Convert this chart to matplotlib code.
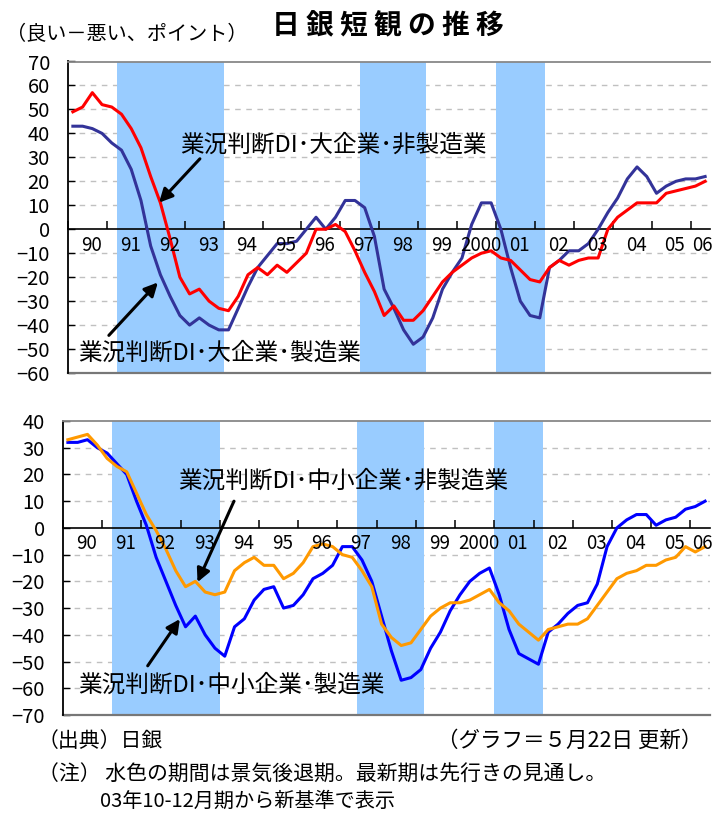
"""
日銀短観（業況判断DI）の推移を2段のグラフで描く。
上段: 大企業（製造業・非製造業）、下段: 中小企業（製造業・非製造業）。
"""

import matplotlib

matplotlib.use("Agg")
import matplotlib.pyplot as plt  # noqa: E402
import numpy as np  # noqa: E402

plt.rcParams["font.family"] = ["Noto Sans CJK JP", "DejaVu Sans"]
plt.rcParams["axes.unicode_minus"] = True

W, H = 712, 816  # 出力サイズ (px)

# 四半期データ 1990年1-3月期〜2006年4-6月期（最新期は先行きの見通し）
dai_hiseizo = [49, 51, 57, 52, 51, 48, 42, 34, 22, 11, -4, -20, -27, -25, -30, -33,
               -34, -28, -19, -16, -19, -15, -18, -14, -10, 0, 0, 2, -1, -9, -18, -26,
               -36, -32, -38, -38, -34, -28, -22, -18, -15, -12, -10, -9, -12, -13, -17, -21,
               -22, -16, -13, -15, -13, -12, -12, 0, 5, 8, 11, 11, 11, 15, 16, 17,
               18, 20]
dai_seizo = [43, 43, 42, 40, 36, 33, 25, 12, -7, -19, -28, -36, -40, -37, -40, -42,
             -42, -33, -24, -16, -11, -6, -6, -5, 0, 5, 0, 5, 12, 12, 9, -3,
             -25, -33, -42, -48, -45, -37, -25, -18, -12, 2, 11, 11, 0, -16, -30, -36,
             -37, -16, -13, -9, -9, -6, 0, 7, 13, 21, 26, 22, 15, 18, 20, 21,
             21, 22]
chusho_hiseizo = [33, 34, 35, 31, 26, 23, 21, 13, 5, -1, -8, -16, -22, -20, -24, -25,
                  -24, -16, -13, -11, -14, -14, -19, -17, -13, -7, -6, -7, -10, -11, -16, -22,
                  -36, -41, -44, -43, -38, -33, -30, -28, -28, -27, -25, -23, -28, -31, -36, -39,
                  -42, -38, -37, -36, -36, -34, -29, -24, -19, -17, -16, -14, -14, -12, -11, -7,
                  -9, -7]
chusho_seizo = [32, 32, 33, 30, 28, 24, 20, 10, 1, -11, -20, -29, -37, -33, -40, -45,
                -48, -37, -34, -27, -23, -22, -30, -29, -25, -19, -17, -14, -7, -7, -12, -20,
                -33, -46, -57, -56, -53, -45, -39, -31, -25, -20, -17, -15, -25, -38, -47, -49,
                -51, -39, -36, -32, -29, -28, -21, -7, 0, 3, 5, 5, 1, 3, 4, 7,
                8, 10]

nen_labels = ["90", "91", "92", "93", "94", "95", "96", "97", "98", "99",
              "2000", "01", "02", "03", "04", "05", "06"]

# 景気後退期（水色の期間）
koutai = [(1991.25, 1994.0), (1997.5, 1999.2), (2001.0, 2002.25)]

quarters = 1990 + (np.arange(len(dai_seizo)) + 0.5) / 4
years = np.arange(1990, 1990 + len(nen_labels))

SHADE = "#99ccff"
GRID = "#c0c0c0"


def draw_panel(ax, back, front, c_back, c_front, ymin, ymax):
    """1段分のグラフ（水色の後退期、破線グリッド、2本の折れ線）を描く。"""
    ax.set_xlim(1990, 2006.5)
    ax.set_ylim(ymin, ymax)

    for start, end in koutai:
        ax.axvspan(start, end, color=SHADE, lw=0, zorder=1)

    for v in range(ymin + 10, ymax, 10):
        if v != 0:
            ax.axhline(v, color=GRID, lw=1.0, ls=(0, (4, 4)), zorder=0.5)

    ax.plot(quarters, back, color=c_back, lw=2.2, zorder=3)
    ax.plot(quarters, front, color=c_front, lw=2.2, zorder=4)

    # x軸はゼロの位置、枠は灰色
    ax.spines["bottom"].set_position(("data", 0))
    ax.spines["bottom"].set_linewidth(1.2)
    ax.spines["left"].set_linewidth(1.3)
    ax.spines["right"].set_visible(False)
    ax.spines["top"].set_color("#888888")
    ax.spines["top"].set_linewidth(1.3)
    ax.plot([0, 1], [0, 0], transform=ax.transAxes, color="#777777",
            lw=1.6, clip_on=False, zorder=2)

    ax.set_xticks(years)
    ax.tick_params(axis="x", direction="in", length=6, width=1.1,
                   labelbottom=False)
    ax.set_yticks(range(ymin, ymax + 1, 10))
    ax.tick_params(axis="y", direction="in", length=5, width=1.0,
                   labelsize=14.5, pad=13)

    for yr, lab in zip(years, nen_labels):
        ax.annotate(lab, xy=(min(yr + 0.6, 2006.3), 0), xytext=(0, -4),
                    textcoords="offset points", ha="center", va="top",
                    fontsize=13.5, zorder=5, annotation_clip=False)


def label_arrow(ax, text, text_xy, tail, head):
    """系列名のラベルと矢印。"""
    ax.text(text_xy[0], text_xy[1], text, fontsize=17, ha="left",
            va="center", zorder=6)
    ax.annotate("", xy=head, xytext=tail, zorder=6,
                arrowprops=dict(arrowstyle="-|>", color="black", lw=2.2,
                                mutation_scale=20, shrinkA=0, shrinkB=0))


fig = plt.figure(figsize=(W / 100, H / 100), dpi=100)
ax1 = fig.add_axes([68 / W, 1 - 373 / H, 642 / W, 311.5 / H])
ax2 = fig.add_axes([63 / W, 1 - 715 / H, 647 / W, 294 / H])

draw_panel(ax1, dai_seizo, dai_hiseizo, "#333399", "#ff0000", -60, 70)
draw_panel(ax2, chusho_seizo, chusho_hiseizo, "#0000ff", "#ff9900", -70, 40)

label_arrow(ax1, "業況判断DI･大企業･非製造業", (1992.88, 35.1),
            (1993.39, 29.4), (1992.34, 11.1))
label_arrow(ax1, "業況判断DI･大企業･製造業", (1990.26, -51.8),
            (1991.05, -44.3), (1992.31, -22.2))
label_arrow(ax2, "業況判断DI･中小企業･非製造業", (1992.93, 17.4),
            (1994.36, 10.0), (1993.43, -20.3))
label_arrow(ax2, "業況判断DI･中小企業･製造業", (1990.38, -58.7),
            (1992.16, -51.6), (1992.98, -34.1))


def px(x, y):
    return x / W, 1 - y / H


fig.text(*px(388, 26), "日 銀 短 観 の 推 移", fontsize=20, fontweight="bold",
         ha="center", va="center")
fig.text(*px(6, 35), "（良い－悪い、ポイント）", fontsize=14.5, va="center")
fig.text(*px(38, 741), "（出典）日銀", fontsize=15, va="center")
fig.text(*px(702, 741), "（グラフ＝５月22日 更新）", fontsize=15.5,
         ha="right", va="center")
fig.text(*px(38, 775), "（注） 水色の期間は景気後退期。最新期は先行きの見通し。",
         fontsize=15, va="center")
fig.text(*px(100, 801), "03年10-12月期から新基準で表示", fontsize=14.5,
         va="center")

fig.savefig("out.png", dpi=100)
plt.close(fig)
